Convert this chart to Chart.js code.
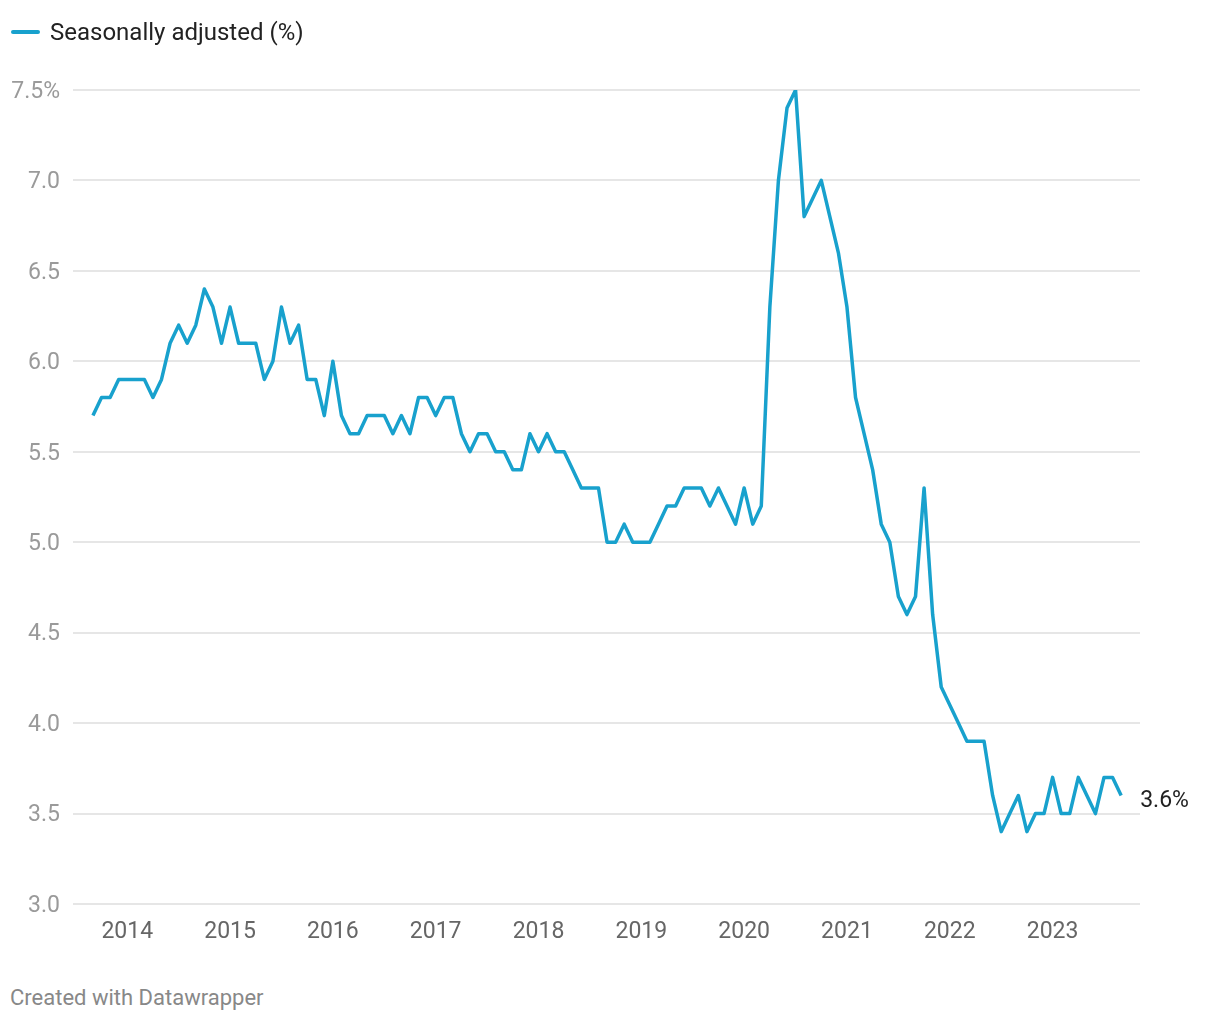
<!DOCTYPE html>
<html>
<head>
<meta charset="utf-8">
<script src="https://cdn.jsdelivr.net/npm/chart.js@4"></script>
<style>
  body { margin: 0; background: #fff; font-family: Roboto, sans-serif; }
  #wrap { position: relative; width: 1220px; height: 1020px; }
  #legend { position: absolute; left: 11px; top: 18px; font-size: 24px; color: #222; display: flex; align-items: center; }
  #legend .sw { width: 29px; height: 4px; background: #18a1cd; border-radius: 2px; margin-right: 10px; }
  #chartbox { position: absolute; left: 0; top: 0; width: 1220px; height: 960px; }
  #footer { position: absolute; left: 10px; top: 985px; font-size: 22px; color: #888; }
</style>
</head>
<body>
<div id="wrap">
  <div id="chartbox"><canvas id="chart"></canvas></div>
  <div id="legend"><span class="sw"></span>Seasonally adjusted (%)</div>
  <div id="footer">Created with Datawrapper</div>
</div>
<script>
// monthly, Sep 2013 - Sep 2023
var startYear = 2013, startMonth = 9;
var rates = [
  5.7, 5.8, 5.8, 5.9,                                           // 2013
  5.9, 5.9, 5.9, 5.8, 5.9, 6.1, 6.2, 6.1, 6.2, 6.4, 6.3, 6.1,   // 2014
  6.3, 6.1, 6.1, 6.1, 5.9, 6.0, 6.3, 6.1, 6.2, 5.9, 5.9, 5.7,   // 2015
  6.0, 5.7, 5.6, 5.6, 5.7, 5.7, 5.7, 5.6, 5.7, 5.6, 5.8, 5.8,   // 2016
  5.7, 5.8, 5.8, 5.6, 5.5, 5.6, 5.6, 5.5, 5.5, 5.4, 5.4, 5.6,   // 2017
  5.5, 5.6, 5.5, 5.5, 5.4, 5.3, 5.3, 5.3, 5.0, 5.0, 5.1, 5.0,   // 2018
  5.0, 5.0, 5.1, 5.2, 5.2, 5.3, 5.3, 5.3, 5.2, 5.3, 5.2, 5.1,   // 2019
  5.3, 5.1, 5.2, 6.3, 7.0, 7.4, 7.5, 6.8, 6.9, 7.0, 6.8, 6.6,   // 2020
  6.3, 5.8, 5.6, 5.4, 5.1, 5.0, 4.7, 4.6, 4.7, 5.3, 4.6, 4.2,   // 2021
  4.1, 4.0, 3.9, 3.9, 3.9, 3.6, 3.4, 3.5, 3.6, 3.4, 3.5, 3.5,   // 2022
  3.7, 3.5, 3.5, 3.7, 3.6, 3.5, 3.7, 3.7, 3.6                   // 2023
];
var yearTicks = ['2014', '2015', '2016', '2017', '2018', '2019', '2020', '2021', '2022', '2023'];
var yTicks = [3.0, 3.5, 4.0, 4.5, 5.0, 5.5, 6.0, 6.5, 7.0, 7.5];

var months = [];
for (var i = 0; i < rates.length; i++) {
  var m = startMonth - 1 + i;
  var y = startYear + Math.floor(m / 12);
  var mm = (m % 12) + 1;
  months.push(y + '-' + (mm < 10 ? '0' + mm : mm));
}
var points = rates.map(function(v, i){ return {x: i, y: v}; });
var tickIndex = yearTicks.map(function(y){ return months.indexOf(y + '-01'); });

var endLabel = {
  id: 'endLabel',
  afterDatasetsDraw: function(chart){
    var meta = chart.getDatasetMeta(0);
    var pt = meta.data[meta.data.length - 1];
    var ctx = chart.ctx;
    ctx.save();
    ctx.font = '23px Roboto';
    ctx.fillStyle = '#222';
    ctx.textBaseline = 'middle';
    ctx.textAlign = 'left';
    ctx.fillText(rates[rates.length - 1].toFixed(1) + '%', pt.x + 19, pt.y + 6);
    ctx.restore();
  }
};

var ctx = document.getElementById('chart').getContext('2d');
new Chart(ctx, {
  type: 'line',
  data: {
    datasets: [{
      label: 'Seasonally adjusted (%)',
      data: points,
      borderColor: '#18a1cd',
      borderWidth: 3.5,
      borderJoinStyle: 'round',
      pointRadius: 0,
      tension: 0,
      fill: false
    }]
  },
  plugins: [endLabel],
  options: {
    responsive: true,
    maintainAspectRatio: false,
    animation: false,
    layout: { padding: { top: 90, right: 80, left: 0, bottom: 0 } },
    plugins: {
      legend: { display: false },
      tooltip: { enabled: false }
    },
    scales: {
      x: {
        type: 'linear',
        min: -2.33,
        max: 122.2,
        grid: { display: false, drawTicks: false },
        border: { display: false },
        afterBuildTicks: function(scale){
          scale.ticks = tickIndex.map(function(v){ return {value: v}; });
        },
        afterFit: function(scale){ scale.height = 56; },
        ticks: {
          padding: 14,
          color: '#666',
          font: { family: 'Roboto', size: 23 },
          maxRotation: 0,
          autoSkip: false,
          callback: function(v){
            var k = tickIndex.indexOf(v);
            return k >= 0 ? yearTicks[k] : '';
          }
        }
      },
      y: {
        min: 3,
        max: 7.5,
        grid: { color: '#e6e6e6', lineWidth: 2, drawTicks: false },
        border: { display: false },
        afterBuildTicks: function(scale){
          scale.ticks = yTicks.map(function(v){ return {value: v}; });
        },
        afterFit: function(scale){ scale.width = 73; },
        ticks: {
          padding: 13,
          labelOffset: 2,
          color: '#9a9a9a',
          font: { family: 'Roboto', size: 23 },
          callback: function(v){
            return v === 7.5 ? v.toFixed(1) + '%' : v.toFixed(1);
          }
        }
      }
    }
  }
});
</script>
</body>
</html>
